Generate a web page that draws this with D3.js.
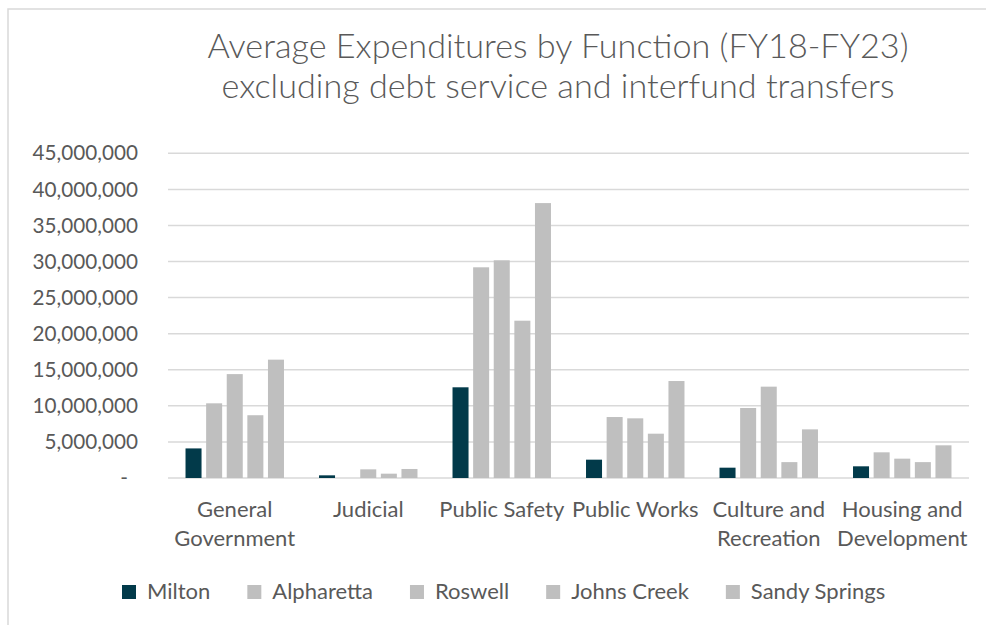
<!DOCTYPE html>
<html><head><meta charset="utf-8">
<script src="https://cdn.jsdelivr.net/npm/d3@7"></script>
<style>
html,body{margin:0;padding:0;background:#fff;}
svg text{font-family:Lato,"Open Sans",sans-serif;fill:#595959;}
</style></head>
<body><svg id="c" width="986" height="625"></svg>
<script>
const categories = [["General","Government"],["Judicial"],["Public Safety"],["Public Works"],["Culture and","Recreation"],["Housing and","Development"]];
const seriesNames = ["Milton","Alpharetta","Roswell","Johns Creek","Sandy Springs"];
const milton      = [4100000, 370000, 12570000, 2540000, 1430000, 1620000];
const alpharetta  = [10350000, 0, 29200000, 8450000, 9700000, 3560000];
const roswell     = [14400000, 1200000, 30170000, 8270000, 12660000, 2680000];
const johnsCreek  = [8700000, 600000, 21800000, 6140000, 2200000, 2200000];
const sandySprings= [16400000, 1250000, 38100000, 13440000, 6740000, 4530000];
const yTicks = [0,5000000,10000000,15000000,20000000,25000000,30000000,35000000,40000000,45000000];
const titleLines = ["Average Expenditures by Function (FY18-FY23)","excluding debt service and interfund transfers"];

const seriesValues = [milton, alpharetta, roswell, johnsCreek, sandySprings];
const colors = ["#023A4A","#BFBFBF","#BFBFBF","#BFBFBF","#BFBFBF"];

const svg = d3.select("#c");
// frame
svg.append("path").attr("d","M8,625 V9 H986").attr("fill","none").attr("stroke","#D9D9D9").attr("stroke-width",1.5);

// title
const title = svg.append("g");
titleLines.forEach((t,i)=>{
  title.append("text").attr("x",558).attr("y",58+i*40).attr("text-anchor","middle")
    .style("font-size","34.2px").style("font-weight","300").text(t);
});

const pLeft=168, pRight=969, pTop=153.3, pBottom=478;
const x0 = d3.scaleBand().domain(d3.range(categories.length)).range([pLeft,pRight]).paddingInner(0).paddingOuter(0);
const x1 = d3.scaleBand().domain(d3.range(seriesNames.length)).range([0,x0.bandwidth()]).paddingInner(0.223).paddingOuter(0.85);
const y = d3.scaleLinear().domain([0,45000000]).range([pBottom,pTop]);

// gridlines
svg.append("g").selectAll("line").data(yTicks).join("line")
  .attr("x1",pLeft).attr("x2",pRight).attr("y1",d=>y(d)).attr("y2",d=>y(d))
  .attr("stroke","#D9D9D9").attr("stroke-width",1.5);

// y axis labels
const yAxis = d3.axisLeft(y).tickValues(yTicks).tickSize(0).tickPadding(0)
  .tickFormat(d=> d===0 ? "-" : d3.format(",")(d));
const ya = svg.append("g").attr("transform","translate(138,0)").call(yAxis);
ya.select(".domain").remove();
ya.selectAll("text").style("font-size","20.7px").attr("fill","#595959")
  .attr("dx", d=> d===0 ? -10 : 0);

// bars
const groups = svg.append("g").selectAll("g").data(categories.map((c,i)=>i)).join("g")
  .attr("transform",i=>`translate(${x0(i)},0)`);
groups.selectAll("rect").data(i=>seriesValues.map((s,j)=>({j,v:s[i]}))).join("rect")
  .attr("x",d=>x1(d.j)).attr("width",x1.bandwidth())
  .attr("y",d=>y(d.v)).attr("height",d=>pBottom-y(d.v))
  .attr("fill",d=>colors[d.j]);

// category labels
const cl = svg.append("g").selectAll("text").data(categories).join("text")
  .attr("text-anchor","middle").style("font-size","22px")
  .attr("transform",(c,i)=>`translate(${x0(i)+x0.bandwidth()/2},517)`);
cl.selectAll("tspan").data(c=>c).join("tspan").attr("x",0).attr("dy",(d,k)=>k===0?0:29).text(d=>d);

// legend
const leg = svg.append("g");
let lx = 122;
seriesNames.forEach((n,i)=>{
  leg.append("rect").attr("x",lx).attr("y",585).attr("width",14).attr("height",14).attr("fill",colors[i]);
  const t = leg.append("text").attr("x",lx+25).attr("y",599).style("font-size","22px").text(n);
  lx = lx+25+t.node().getComputedTextLength()+37;
});
</script></body></html>
